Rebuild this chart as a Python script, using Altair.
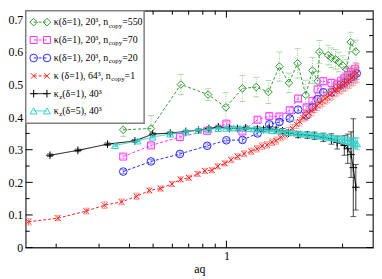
import altair as alt
import pandas as pd

W, H = 352, 240
FONT = "Liberation Serif"

# ---------------- data ----------------
green_aq = [0.377, 0.490, 0.650, 0.841, 0.995, 1.164, 1.326, 1.488, 1.65, 1.806, 1.96, 2.117,
            2.256, 2.37, 2.41, 2.617, 2.697, 2.806, 2.892, 3.007, 3.12, 3.24, 3.40]
green_y = [0.361, 0.365, 0.500, 0.469, 0.430, 0.488, 0.492, 0.477, 0.555, 0.505, 0.565, 0.468,
           0.543, 0.510, 0.600, 0.590, 0.582, 0.577, 0.569, 0.558, 0.546, 0.630, 0.601]
green_err = [0.020, 0.040, 0.031, 0.018, 0.045, 0.040, 0.030, 0.035, 0.045, 0.030, 0.045, 0.045,
             0.040, 0.030, 0.035, 0.030, 0.030, 0.030, 0.030, 0.030, 0.030, 0.030, 0.035]

mag_aq = [0.377, 0.490, 0.644, 0.834, 1.0, 1.164, 1.343, 1.50, 1.65, 1.82, 1.97, 2.135, 2.256,
          2.37, 2.50, 2.70, 2.85, 2.95, 3.05, 3.15, 3.25, 3.38]
mag_y = [0.279, 0.313, 0.339, 0.358, 0.380, 0.356, 0.392, 0.403, 0.402, 0.421, 0.457, 0.430, 0.450,
         0.485, 0.510, 0.505, 0.500, 0.510, 0.519, 0.529, 0.539, 0.548]
mag_err = [0.006, 0.006, 0.006, 0.007, 0.007, 0.007, 0.008, 0.008, 0.008, 0.009, 0.009, 0.009, 0.010,
           0.010, 0.011, 0.012, 0.013, 0.014, 0.015, 0.016, 0.017, 0.018]

blue_aq = [0.377, 0.490, 0.644, 0.834, 1.0, 1.164, 1.343, 1.50, 1.65, 1.82, 1.97, 2.135, 2.256,
           2.37, 2.50, 2.70, 2.85, 2.95, 3.05, 3.15, 3.25, 3.35, 3.43]
blue_y = [0.233, 0.264, 0.287, 0.312, 0.329, 0.330, 0.350, 0.378, 0.385, 0.396, 0.423, 0.405, 0.430,
          0.455, 0.476, 0.476, 0.490, 0.500, 0.505, 0.515, 0.522, 0.528, 0.534]
blue_err = [0.006, 0.006, 0.006, 0.006, 0.006, 0.007, 0.007, 0.007, 0.008, 0.008, 0.008, 0.009, 0.009,
            0.010, 0.010, 0.011, 0.012, 0.013, 0.014, 0.015, 0.016, 0.017, 0.018]

red_aq = [0.154, 0.203, 0.266, 0.316, 0.371, 0.428, 0.483, 0.537, 0.597, 0.648, 0.701, 0.761,
          0.816, 0.872, 0.921, 0.985, 1.046, 1.112, 1.182, 1.264, 1.335, 1.40, 1.47, 1.54, 1.60,
          1.67, 1.74, 1.80, 1.87, 1.94, 2.00, 2.06, 2.12, 2.18, 2.24, 2.30, 2.36, 2.42, 2.48,
          2.54, 2.60, 2.66, 2.72, 2.78, 2.84, 2.90, 2.96, 3.02, 3.08, 3.14, 3.20, 3.26, 3.32,
          3.38, 3.44]
red_y = [0.079, 0.090, 0.112, 0.130, 0.140, 0.157, 0.175, 0.181, 0.195, 0.209, 0.214, 0.226,
         0.235, 0.237, 0.249, 0.258, 0.269, 0.279, 0.288, 0.295, 0.303, 0.311, 0.315, 0.323, 0.328,
         0.338, 0.345, 0.356, 0.365, 0.378, 0.386, 0.399, 0.403, 0.413, 0.419, 0.429, 0.435, 0.444,
         0.449, 0.457, 0.461, 0.469, 0.473, 0.481, 0.484, 0.491, 0.493, 0.500, 0.503, 0.510, 0.513,
         0.520, 0.524, 0.531, 0.535]
red_err = [0.010, 0.008, 0.009, 0.010, 0.009, 0.010, 0.008, 0.008, 0.008, 0.008, 0.008, 0.008,
           0.008, 0.008, 0.008, 0.008, 0.009, 0.009, 0.009, 0.010, 0.010, 0.010, 0.010, 0.010, 0.011,
           0.011, 0.012, 0.012, 0.012, 0.013, 0.013, 0.013, 0.014, 0.014, 0.015, 0.015, 0.015, 0.016,
           0.016, 0.017, 0.017, 0.018, 0.018, 0.019, 0.019, 0.020, 0.020, 0.021, 0.022, 0.023, 0.024,
           0.025, 0.026, 0.027, 0.028]

black_aq = [0.1886, 0.2455, 0.325, 0.421, 0.498, 0.588, 0.681, 0.768, 0.847, 0.927, 1.03, 1.11,
            1.20, 1.34, 1.42, 1.50, 1.60, 1.70, 1.80, 1.97, 2.15, 2.30, 2.50, 2.70, 2.85, 3.05,
            3.15, 3.25, 3.32, 3.40]
black_y = [0.283, 0.298, 0.317, 0.327, 0.348, 0.351, 0.356, 0.360, 0.365, 0.370, 0.365, 0.365,
           0.367, 0.364, 0.362, 0.364, 0.362, 0.358, 0.351, 0.346, 0.345, 0.343, 0.338, 0.333,
           0.322, 0.313, 0.303, 0.285, 0.245, 0.185]
black_err = [0.004, 0.004, 0.004, 0.004, 0.004, 0.004, 0.004, 0.004, 0.005, 0.005, 0.005, 0.005,
             0.005, 0.006, 0.006, 0.006, 0.007, 0.007, 0.008, 0.009, 0.010, 0.011, 0.013, 0.016,
             0.020, 0.030, 0.045, 0.070, 0.150, 0.070]

cyan_aq = [0.349, 0.432, 0.498, 0.588, 0.681, 0.768, 0.847, 0.927, 1.0, 1.07, 1.14, 1.22, 1.30,
           1.38, 1.46, 1.54, 1.62, 1.70, 1.78, 1.86, 1.94, 2.02, 2.10, 2.18, 2.26, 2.34, 2.42,
           2.50, 2.58, 2.66, 2.74, 2.82, 2.90, 2.98, 3.06, 3.14, 3.22, 3.30, 3.38, 3.44]
cyan_y = [0.313, 0.327, 0.339, 0.348, 0.355, 0.360, 0.363, 0.365, 0.366, 0.367, 0.366, 0.365,
          0.364, 0.362, 0.361, 0.359, 0.358, 0.356, 0.354, 0.353, 0.351, 0.350, 0.348, 0.347,
          0.345, 0.344, 0.342, 0.341, 0.339, 0.338, 0.336, 0.334, 0.333, 0.331, 0.329, 0.327,
          0.325, 0.322, 0.320, 0.318]
cyan_err = [0.003, 0.003, 0.003, 0.003, 0.003, 0.003, 0.003, 0.003, 0.003, 0.003, 0.003, 0.003,
            0.004, 0.004, 0.004, 0.004, 0.004, 0.004, 0.005, 0.005, 0.005, 0.005, 0.005, 0.006,
            0.006, 0.006, 0.006, 0.007, 0.007, 0.007, 0.008, 0.008, 0.009, 0.009, 0.010, 0.011,
            0.012, 0.014, 0.016, 0.018]

# axis ticks
y_labels = [0, 0.1, 0.2, 0.3, 0.4, 0.5, 0.6, 0.7]
y_minor = [0.05, 0.15, 0.25, 0.35, 0.45, 0.55, 0.65]
x_labels = [1]
x_minor = [0.2, 0.3, 0.4, 0.5, 0.6, 0.7, 0.8, 0.9, 2, 3]

# ---------------- styles ----------------
PLUS = "M-1,0L1,0M0,-1L0,1"
CROSS = "M-1,-1L1,1M-1,1L1,-1"

series = [
    # name, aq, y, err, color, errcolor, shape, size, dash, errdash
    ("green", green_aq, green_y, green_err, "#2f9a2f", "#8cc98c", "diamond", 60, [3, 2], [1, 1.5]),
    ("magenta", mag_aq, mag_y, mag_err, "#ff33ff", "#ff88ff", "square", 50, [3, 2], [1, 0]),
    ("blue", blue_aq, blue_y, blue_err, "#2a2aff", "#7777ff", "circle", 60, [3, 2], [1, 0]),
    ("red", red_aq, red_y, red_err, "#ff2020", "#ff8080", CROSS, 30, [3, 2], [1, 0]),
    ("black", black_aq, black_y, black_err, "#000000", "#222222", PLUS, 60, [1, 0], [1, 0]),
    ("cyan", cyan_aq, cyan_y, cyan_err, "#33d0c8", "#33d0c8", "triangle-up", 50, [1, 0], [1, 0]),
]

xscale = alt.Scale(type="log", domain=[0.15, 4], nice=False)
yscale = alt.Scale(domain=[0, 0.726], nice=False, zero=False)


def XA(field):
    return alt.X(field + ":Q", scale=xscale,
                 axis=alt.Axis(values=x_labels, title="aq", format="~g", labelFlush=False))


def YA(field):
    return alt.Y(field + ":Q", scale=yscale,
                 axis=alt.Axis(values=y_labels, title="", format="~g"))


layers = []
for name, aq, yv, err, col, ecol, shape, size, dash, edash in series:
    df = pd.DataFrame({"aq": aq, "y": yv, "err": err})
    df["lo"] = df["y"] - df["err"]
    df["hi"] = df["y"] + df["err"]
    base = alt.Chart(df)
    layers.append(base.mark_rule(color=ecol, strokeWidth=1, strokeDash=edash).encode(
        x=XA("aq"), y=YA("lo"), y2="hi:Q"))
    for f in ("lo", "hi"):
        layers.append(base.mark_tick(orient="horizontal", color=ecol, size=6, thickness=1).encode(
            x=XA("aq"), y=YA(f)))
    layers.append(base.mark_line(color=col, strokeWidth=1, strokeDash=dash).encode(
        x=XA("aq"), y=YA("y")))
    layers.append(base.mark_point(shape=shape, size=size, filled=False, color=col,
                                  strokeWidth=1, opacity=1).encode(x=XA("aq"), y=YA("y")))


# inward ticks on all four sides
def yticks(vals, ln):
    d = alt.Chart(pd.DataFrame({"v": vals}))
    return [d.mark_rule(color="black", strokeWidth=1).encode(
                y=YA("v"), x=alt.value(0), x2=alt.value(ln)),
            d.mark_rule(color="black", strokeWidth=1).encode(
                y=YA("v"), x=alt.value(W - ln), x2=alt.value(W))]


def xticks(vals, ln):
    d = alt.Chart(pd.DataFrame({"v": vals}))
    return [d.mark_rule(color="black", strokeWidth=1).encode(
                x=XA("v"), y=alt.value(H - ln), y2=alt.value(H)),
            d.mark_rule(color="black", strokeWidth=1).encode(
                x=XA("v"), y=alt.value(0), y2=alt.value(ln))]


layers += yticks(y_labels, 7) + yticks(y_minor, 4) + xticks(x_labels, 7) + xticks(x_minor, 4)

# ---------------- legend ----------------
one = pd.DataFrame({"k": [0]})
CW = {"κ": 0.54, "δ": 0.49, "(": 0.333, ")": 0.333, "=": 0.564, ",": 0.25, " ": 0.25, "³": 0.3,
      "n": 0.5, "c": 0.444, "o": 0.5, "p": 0.5, "y": 0.5, "z": 0.444}


def tw(s, fs):
    return sum(CW.get(ch, 0.5) for ch in s) * fs


LW, LH = 120, 114
FS, SFS = 10, 7
layers.append(alt.Chart(one).mark_rect(fill="white", stroke="#808080", strokeWidth=1.5).encode(
    x=alt.value(0), x2=alt.value(LW), y=alt.value(0), y2=alt.value(LH)))

leg = [
    ("κ(δ=1), 20³, n", "copy", "=550", 0),
    ("κ(δ=1), 20³, n", "copy", "=70", 1),
    ("κ(δ=1), 20³, n", "copy", "=20", 2),
    ("κ (δ=1), 64³, n", "copy", "=1", 3),
    ("κ", "z", "(δ=1), 40³", 4),
    ("κ", "z", "(δ=5), 40³", 5),
]
row_y = [11.5, 29.6, 47.8, 66, 84, 101.5]
TX = 28.5


def txt(s, x, y, fs):
    return alt.Chart(one).mark_text(text=s, align="left", baseline="middle", font=FONT,
                                    fontSize=fs, color="black").encode(x=alt.value(x), y=alt.value(y))


for pre, sub, post, i in leg:
    _, _, _, _, col, ecol, shape, size, dash, _ = series[i]
    yy = row_y[i]
    layers.append(alt.Chart(one).mark_rule(color=col, strokeWidth=1, strokeDash=dash).encode(
        x=alt.value(8), x2=alt.value(21.5), y=alt.value(yy)))
    for px in (8, 21.5):
        layers.append(alt.Chart(one).mark_point(shape=shape, size=size, filled=False, color=col,
                                                strokeWidth=1, opacity=1).encode(
            x=alt.value(px), y=alt.value(yy)))
    x1 = TX + tw(pre, FS)
    x2 = x1 + tw(sub, SFS)
    layers.append(txt(pre, TX, yy, FS))
    layers.append(txt(sub, x1, yy + 3.5, SFS))
    layers.append(txt(post, x2, yy, FS))

chart = alt.layer(*layers).properties(
    width=W, height=H, padding={"left": 0, "top": 0, "right": 0, "bottom": 0}
).configure_view(stroke="#333333", strokeWidth=1.3).configure_axis(
    domain=False, grid=False, ticks=False, labelFont=FONT, labelFontSize=12, labelColor="black",
    labelPadding=3, titleFont=FONT, titleFontSize=12, titleFontWeight="normal", titleColor="black",
    titlePadding=2
)

chart.save("out.html", embed_options={"renderer": "svg", "actions": False})
